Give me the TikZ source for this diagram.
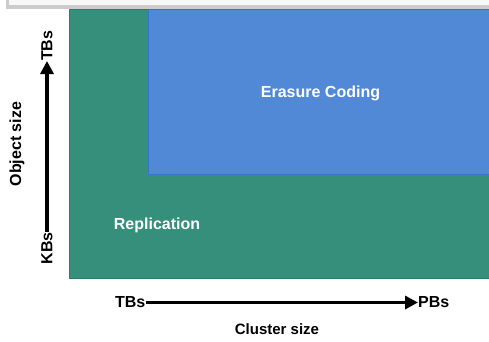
\documentclass[tikz,border=0pt]{standalone}
\usepackage{fontspec}
\setmainfont{Liberation Sans}
\usetikzlibrary{arrows.meta}
\definecolor{repgreen}{HTML}{358F7A}
\definecolor{repedge}{HTML}{2A7D68}
\definecolor{ecblue}{HTML}{5289D6}
\definecolor{ecedge}{HTML}{3A72CF}
\definecolor{barfill}{HTML}{F8F8F8}
\definecolor{baredge}{HTML}{CCCCCC}
\tikzset{
  lbl/.style={font=\fontsize{16}{18}\selectfont\bfseries, inner sep=0pt},
  inlbl/.style={lbl, text=white},
  axis/.style={line width=3.2pt, -{Triangle[length=13pt,width=13pt]}},
}
\begin{document}
\begin{tikzpicture}[x=1pt,y=-1pt]
\useasboundingbox (0,0) rectangle (489,341);
% top bar
\fill[baredge] (6,0) rectangle (489,8.5);
\fill[barfill] (9,0) rectangle (489,5);
% regions
\filldraw[draw=repedge, fill=repgreen, line width=1pt] (69.5,9.5) rectangle (495,278.5);
\filldraw[draw=ecedge, fill=ecblue, line width=1pt] (148.5,9.5) rectangle (495,174);
\node[inlbl] (ec) at (320.5,93.5) {Erasure Coding};
\node[inlbl] (repl) at (157,225.5) {Replication};
% x axis
\node[lbl, anchor=east] (xtb) at (145.5,302.5) {TBs};
\node[lbl, anchor=west] (xpb) at (418,302.5) {PBs};
\draw[axis] (xtb.east) -- (xpb.west);
\node[lbl, font=\fontsize{15}{18}\selectfont\bfseries] (xl) at (277,329) {Cluster size};
% y axis
\node[lbl, rotate=90, anchor=east] (ykb) at (47,232) {KBs};
\node[lbl, rotate=90, anchor=west] (ytb) at (47,61) {TBs};
\draw[axis] (ykb.east) -- (ytb.west);
\node[lbl, rotate=90] (yl) at (17,144) {Object size};
\end{tikzpicture}
\end{document}
